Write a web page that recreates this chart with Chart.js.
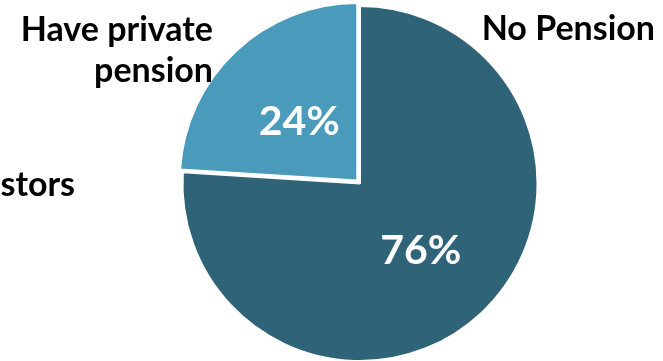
<!DOCTYPE html>
<html><head><meta charset="utf-8">
<script src="https://cdn.jsdelivr.net/npm/chart.js@4"></script>
<style>html,body{margin:0;padding:0;background:#fff;overflow:hidden}#wrap{width:663px;height:361px;position:relative;overflow:hidden}#c{position:absolute;left:0;top:-3px}</style>
</head><body><div id="wrap"><canvas id="c" width="663" height="380"></canvas></div>
<script>
const categories = ["No Pension", "Have private pension"];
const values = [76, 24];
const sideLabels = [["No Pension"], ["Have private", "pension"], ["Investors"]];
const colors = ["#2E6378", "#4A9BBB"];

const FONT = 'Lato, "Open Sans", sans-serif';
// positions in page pixels (canvas is shifted up by 3px)
const SHIFT = 3;
const sidePos = [
  {x: 655, y: 40},
  {x: 213, y: 41},
  {x: 75, y: 196}
];

const labelPlugin = {
  id: 'labels',
  afterDatasetsDraw(chart) {
    const ctx = chart.ctx;
    const meta = chart.getDatasetMeta(0);
    ctx.save();
    ctx.fillStyle = '#ffffff';
    ctx.font = 'bold 41px ' + FONT;
    ctx.textAlign = 'center';
    ctx.textBaseline = 'alphabetic';
    meta.data.forEach((arc, i) => {
      const pr = arc.getProps(['x', 'y', 'startAngle', 'endAngle', 'innerRadius', 'outerRadius']);
      const mid = (pr.startAngle + pr.endAngle) / 2;
      const r = (pr.innerRadius + pr.outerRadius) / 2;
      const px = pr.x + Math.cos(mid) * r;
      const py = pr.y + Math.sin(mid) * r;
      ctx.fillText(values[i] + '%', px, py + 16);
    });
    ctx.fillStyle = '#000000';
    ctx.font = 'bold 34px ' + FONT;
    ctx.textAlign = 'right';
    sideLabels.forEach((lines, i) => {
      lines.forEach((t, j) => ctx.fillText(t, sidePos[i].x, sidePos[i].y + SHIFT + j * 41));
    });
    ctx.restore();
  }
};

new Chart(document.getElementById('c'), {
  type: 'pie',
  data: {
    labels: categories,
    datasets: [{
      data: values,
      backgroundColor: colors,
      borderColor: '#ffffff',
      borderWidth: 2,
      offset: [0, 16]
    }]
  },
  options: {
    responsive: false,
    animation: false,
    layout: {padding: {left: 160, right: 103, top: 0, bottom: 7}},
    plugins: {legend: {display: false}, tooltip: {enabled: false}}
  },
  plugins: [labelPlugin]
});
</script>
</body></html>
